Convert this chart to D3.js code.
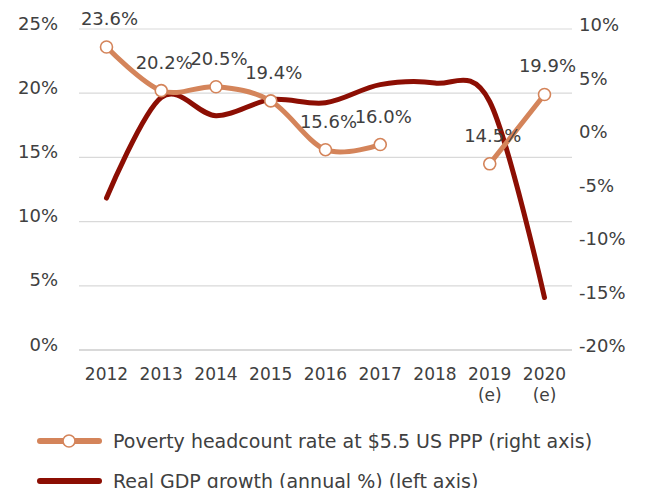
<!DOCTYPE html>
<html>
<head>
<meta charset="utf-8">
<script src="https://cdn.jsdelivr.net/npm/d3@7"></script>
<style>
  body { margin: 0; background: #fff; }
  svg text { font-family: "DejaVu Sans", sans-serif; fill: #404040; }
</style>
</head>
<body>
<div id="chart"></div>
<script>
var years = ["2012", "2013", "2014", "2015", "2016", "2017", "2018", "2019", "2020"];
var yearSub = ["", "", "", "", "", "", "", "(e)", "(e)"];
var poverty = [23.6, 20.2, 20.5, 19.4, 15.6, 16.0, null, 14.5, 19.9];
var gdp = [-5.8, 3.6, 1.9, 3.4, 3.1, 4.8, 4.95, 3.2, -15.1];
var leftTicks = [0, 5, 10, 15, 20, 25];
var rightTicks = [-20, -15, -10, -5, 0, 5, 10];
var legendLabels = ["Poverty headcount rate at $5.5 US PPP (right axis)", "Real GDP growth (annual %) (left axis)"];

var width = 649, height = 488;
var margin = {top: 29, left: 79, bottom: 138, right: 77};
var colPov = "#d4845a", colGdp = "#8c0e03";

var svg = d3.select("#chart").append("svg").attr("width", width).attr("height", height);

var x = d3.scalePoint().domain(years).range([margin.left + 27.5, width - margin.right - 27.5]);
var yL = d3.scaleLinear().domain([0, 25]).range([height - margin.bottom, margin.top]);
var yR = d3.scaleLinear().domain([-20, 10]).range([height - margin.bottom, margin.top]);

// gridlines
svg.append("g").selectAll("line").data(leftTicks).enter().append("line")
    .attr("x1", margin.left).attr("x2", width - margin.right)
    .attr("y1", function(d){ return yL(d); }).attr("y2", function(d){ return yL(d); })
    .attr("stroke", "#d9d9d9").attr("stroke-width", function(d){ return d == 0 ? 2 : 1.2; });

// left axis
var leftAxis = svg.append("g").attr("transform", "translate(" + (margin.left - 18) + ",0)")
    .call(d3.axisLeft(yL).tickValues(leftTicks).tickSize(0).tickFormat(function(d){ return d + "%"; }));
leftAxis.select(".domain").remove();
leftAxis.selectAll("text").attr("font-size", 18).attr("dy", "-0.0em")
    .attr("font-family", "DejaVu Sans").attr("fill", "#404040");

// right axis
var rightAxis = svg.append("g").attr("transform", "translate(" + (width - margin.right + 4) + ",0)")
    .call(d3.axisRight(yR).tickValues(rightTicks).tickSize(0).tickFormat(function(d){ return d + "%"; }));
rightAxis.select(".domain").remove();
rightAxis.selectAll("text").attr("font-size", 18).attr("dy", "0.1em")
    .attr("font-family", "DejaVu Sans").attr("fill", "#404040");

// x labels
var xl = svg.append("g");
xl.selectAll("text.yr").data(years).enter().append("text")
    .attr("x", function(d){ return x(d); }).attr("y", 380)
    .attr("text-anchor", "middle").attr("font-size", 17).text(function(d){ return d; });
xl.selectAll("text.sub").data(years).enter().append("text")
    .attr("x", function(d){ return x(d); }).attr("y", 401)
    .attr("text-anchor", "middle").attr("font-size", 17).text(function(d, i){ return yearSub[i]; });

// GDP line
var gdpLine = d3.line()
    .x(function(d, i){ return x(years[i]); })
    .y(function(d){ return yR(d); })
    .curve(d3.curveCardinal.tension(0));
svg.append("path").datum(gdp).attr("d", gdpLine)
    .attr("fill", "none").attr("stroke", colGdp).attr("stroke-width", 5).attr("stroke-linecap", "round");

// poverty line
var povLine = d3.line()
    .defined(function(d){ return d != null; })
    .x(function(d, i){ return x(years[i]); })
    .y(function(d){ return yL(d); })
    .curve(d3.curveCardinal.tension(0));
svg.append("path").datum(poverty).attr("d", povLine)
    .attr("fill", "none").attr("stroke", colPov).attr("stroke-width", 5).attr("stroke-linecap", "round");

var povPts = poverty.map(function(d, i){ return {year: years[i], v: d}; }).filter(function(d){ return d.v != null; });
svg.append("g").selectAll("circle").data(povPts).enter().append("circle")
    .attr("cx", function(d){ return x(d.year); }).attr("cy", function(d){ return yL(d.v); })
    .attr("r", 6).attr("fill", "#fff").attr("stroke", colPov).attr("stroke-width", 1.6);

svg.append("g").selectAll("text").data(povPts).enter().append("text")
    .attr("x", function(d){ return x(d.year) + 3; }).attr("y", function(d){ return yL(d.v) - 22; })
    .attr("text-anchor", "middle").attr("font-size", 18)
    .text(function(d){ return d.v.toFixed(1) + "%"; });

// legend
var lg = svg.append("g");
lg.append("line").attr("x1", 40).attr("x2", 99).attr("y1", 441).attr("y2", 441)
    .attr("stroke", colPov).attr("stroke-width", 6).attr("stroke-linecap", "round");
lg.append("circle").attr("cx", 69).attr("cy", 441).attr("r", 6)
    .attr("fill", "#fff").attr("stroke", colPov).attr("stroke-width", 1.6);
lg.append("line").attr("x1", 40).attr("x2", 99).attr("y1", 481).attr("y2", 481)
    .attr("stroke", colGdp).attr("stroke-width", 6).attr("stroke-linecap", "round");
lg.selectAll("text").data(legendLabels).enter().append("text")
    .attr("x", 113).attr("y", function(d, i){ return 448 + i * 40; })
    .attr("font-size", 19).text(function(d){ return d; });
</script>
</body>
</html>
